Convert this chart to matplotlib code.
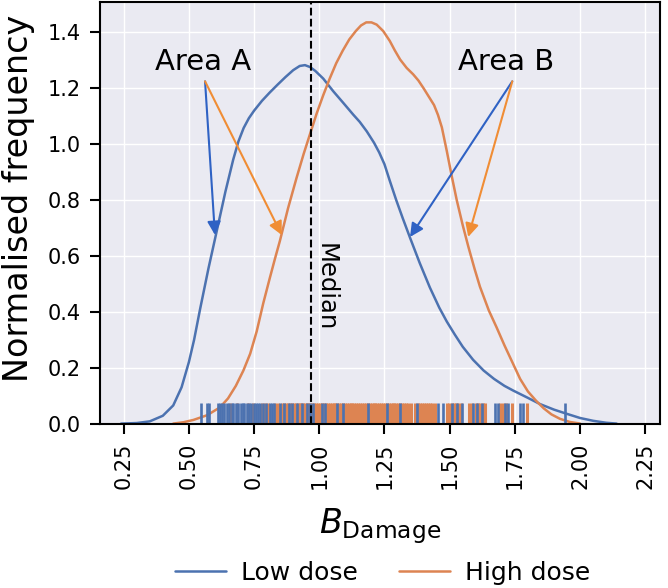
import matplotlib
matplotlib.use("Agg")
import matplotlib.pyplot as plt
import seaborn as sns

sns.set_theme(style="darkgrid")
plt.rcParams['font.family'] = ['DejaVu Sans']
plt.rcParams['mathtext.fontset'] = 'dejavusans'
for k in ['text.color', 'axes.labelcolor', 'xtick.color', 'ytick.color']:
    plt.rcParams[k] = 'black'

# ---- data ----
low_x = [0.24, 0.30, 0.35, 0.40, 0.44, 0.472, 0.50, 0.52, 0.543, 0.575, 0.607, 0.64, 0.67,
         0.69, 0.71, 0.73, 0.75, 0.78, 0.81, 0.84, 0.87, 0.90, 0.925, 0.945, 0.965, 0.985,
         1.015, 1.054, 1.09, 1.13, 1.155, 1.182, 1.21, 1.23, 1.25, 1.27, 1.295, 1.32, 1.348,
         1.385, 1.424, 1.46, 1.489, 1.52, 1.55, 1.59, 1.63, 1.67, 1.71, 1.744, 1.80, 1.846,
         1.90, 1.949, 2.00, 2.05, 2.10, 2.14]
low_y = [0.000, 0.002, 0.008, 0.028, 0.065, 0.130, 0.220, 0.300, 0.410, 0.555, 0.690, 0.830, 0.945,
         1.010, 1.058, 1.093, 1.120, 1.155, 1.185, 1.213, 1.240, 1.265, 1.280, 1.283, 1.276, 1.262,
         1.235, 1.189, 1.150, 1.106, 1.080, 1.046, 1.005, 0.970, 0.928, 0.870, 0.800, 0.735, 0.665,
         0.575, 0.487, 0.415, 0.365, 0.318, 0.275, 0.228, 0.190, 0.160, 0.135, 0.118, 0.092, 0.070,
         0.050, 0.035, 0.020, 0.010, 0.003, 0.000]

high_x = [0.44, 0.48, 0.517, 0.57, 0.619, 0.65, 0.68, 0.709, 0.735, 0.76, 0.785, 0.81, 0.83,
          0.849, 0.88, 0.913, 0.94, 0.964, 0.99, 1.015, 1.04, 1.065, 1.09, 1.115, 1.14, 1.16,
          1.18, 1.20, 1.22, 1.245, 1.27, 1.29, 1.31, 1.335, 1.36, 1.38, 1.40, 1.42, 1.44,
          1.455, 1.47, 1.489, 1.508, 1.527, 1.55, 1.571, 1.595, 1.616, 1.65, 1.68, 1.71, 1.74,
          1.77, 1.80, 1.83, 1.86, 1.89, 1.923, 1.96, 2.00]
high_y = [0.000, 0.005, 0.013, 0.030, 0.058, 0.090, 0.135, 0.190, 0.250, 0.330, 0.430, 0.520, 0.590,
          0.654, 0.770, 0.880, 0.965, 1.035, 1.110, 1.175, 1.235, 1.290, 1.335, 1.375, 1.405, 1.425,
          1.436, 1.436, 1.428, 1.405, 1.370, 1.335, 1.303, 1.273, 1.250, 1.228, 1.200, 1.170, 1.140,
          1.105, 1.060, 0.975, 0.885, 0.800, 0.710, 0.635, 0.555, 0.490, 0.405, 0.344, 0.280, 0.220,
          0.160, 0.115, 0.083, 0.055, 0.033, 0.017, 0.006, 0.000]

low_rug = [0.548, 0.568, 0.577, 0.610, 0.619, 0.627, 0.634, 0.645, 0.652, 0.664, 0.671,
           0.679, 0.690, 0.698, 0.706, 0.713, 0.722, 0.731, 0.738, 0.749, 0.757, 0.766,
           0.774, 0.785, 0.797, 0.810, 0.818, 0.826, 0.848, 0.866, 0.884, 0.897, 0.915,
           0.935, 0.951, 0.964, 0.975, 1.009, 1.022, 1.067, 1.092, 1.188, 1.258, 1.309,
           1.373, 1.456, 1.475, 1.508, 1.527, 1.546, 1.590, 1.604, 1.623, 1.674, 1.686,
           1.712, 1.725, 1.770, 1.782, 1.942]
high_rug = [0.658, 0.683, 0.728, 0.745, 0.781, 0.792, 0.803, 0.831, 0.842, 0.856, 0.863,
            0.871, 0.879, 0.888, 0.894, 0.902, 0.911, 0.918, 0.925, 0.931, 0.938, 0.945,
            0.951, 0.958, 0.966, 0.972, 0.981, 0.988, 0.995, 1.002, 1.011, 1.018, 1.026,
            1.033, 1.041, 1.047, 1.055, 1.062, 1.069, 1.077, 1.084, 1.091, 1.098, 1.106,
            1.113, 1.121, 1.127, 1.135, 1.142, 1.149, 1.157, 1.163, 1.171, 1.178, 1.186,
            1.193, 1.201, 1.208, 1.215, 1.222, 1.230, 1.237, 1.244, 1.252, 1.259, 1.266,
            1.274, 1.281, 1.288, 1.296, 1.303, 1.311, 1.318, 1.326, 1.333, 1.341, 1.352,
            1.366, 1.379, 1.386, 1.394, 1.402, 1.410, 1.418, 1.426, 1.434, 1.443, 1.491,
            1.499, 1.507, 1.516, 1.524, 1.533, 1.542, 1.575, 1.584, 1.600, 1.609, 1.618,
            1.628, 1.636, 1.692, 1.704, 1.716, 1.738, 1.797]

median_x = 0.968
series_labels = ["Low dose", "High dose"]
xticks = [0.25, 0.50, 0.75, 1.00, 1.25, 1.50, 1.75, 2.00, 2.25]
yticks = [0.0, 0.2, 0.4, 0.6, 0.8, 1.0, 1.2, 1.4]

# ---- figure ----
BLUE = "#4C72B0"
ORANGE = "#DD8452"
fig = plt.figure(figsize=(6.68, 5.88), dpi=100)
ax = fig.add_axes([0.1504, 0.2796, 0.8369, 0.7175])

l1, = ax.plot(low_x, low_y, color=BLUE, lw=1.8, label=series_labels[0])
l2, = ax.plot(high_x, high_y, color=ORANGE, lw=1.8, label=series_labels[1])

tr = ax.get_xaxis_transform()
ax.vlines(high_rug, 0, 0.05, transform=tr, color=ORANGE, lw=2.2)
ax.vlines(low_rug, 0, 0.05, transform=tr, color=BLUE, lw=1.9)

ax.axvline(median_x, color="black", ls="--", lw=1.5)
ax.text(median_x + 0.058, 0.49, "Median", rotation=270, ha="center", va="center",
        fontsize=17.5)

blue_arrow = "#2f62c4"
orange_arrow = "#f08d35"
apA = (0.562, 1.225)
apB = (1.740, 1.225)
for start, tip, col in [(apA, (0.600, 0.675), blue_arrow),
                        (apA, (0.856, 0.675), orange_arrow),
                        (apB, (1.348, 0.668), blue_arrow),
                        (apB, (1.571, 0.668), orange_arrow)]:
    ax.annotate("", xy=tip, xytext=start,
                arrowprops=dict(arrowstyle="-|>", color=col, lw=1.5,
                                mutation_scale=20, shrinkA=0, shrinkB=0))
ax.text(0.554, 1.245, "Area A", ha="center", va="bottom", fontsize=21)
ax.text(1.718, 1.245, "Area B", ha="center", va="bottom", fontsize=21)

ax.set_xlim(0.161, 2.3045)
ax.set_ylim(0, 1.51)
ax.set_xticks(xticks)
ax.set_xticklabels([f"{v:.2f}" for v in xticks], rotation=90)
ax.set_yticks(yticks)
ax.set_yticklabels([f"{v:.1f}" for v in yticks])
ax.tick_params(axis="both", labelsize=15, length=7, width=1.5, color="black",
               pad=7, bottom=True, left=True)
for s in ax.spines.values():
    s.set_color("black")
    s.set_linewidth(1.5)

ax.set_ylabel("Normalised frequency", fontsize=24)
ax.yaxis.set_label_coords(-0.117, 0.535)
ax.set_xlabel(r"$B_{\mathrm{Damage}}$", fontsize=24, labelpad=12)

fig.legend(handles=[l1, l2], loc="center", bbox_to_anchor=(0.5726, 0.026), ncol=2,
           frameon=False, fontsize=18, handlelength=2.04, handletextpad=0.6,
           columnspacing=1.64)

fig.savefig("out.png", dpi=100)
